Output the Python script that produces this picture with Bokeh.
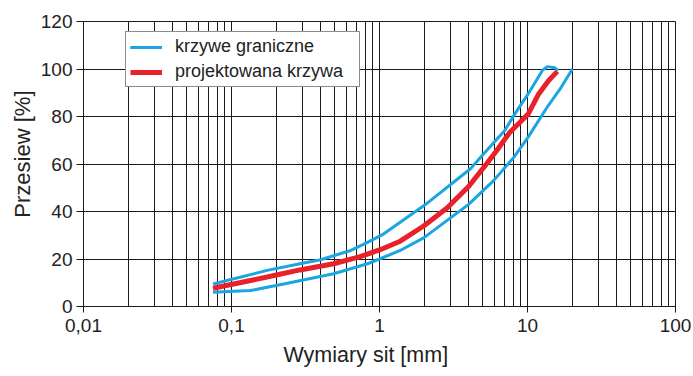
from bokeh.plotting import figure
from bokeh.models import FixedTicker, Title, Range1d
from bokeh.embed import file_html
from bokeh.resources import INLINE

# ---- data ----
upper_x = [0.075, 0.174, 0.29, 0.4, 0.64, 0.83, 1.07, 1.75, 2, 4.12, 5.06, 7.0, 8.2, 10.1, 12.6, 13.6, 15.3, 16.1]
upper_y = [9.5, 15.2, 18, 19.7, 23.6, 27, 30.6, 40, 42.5, 58, 64.3, 74, 81, 89.5, 99.4, 101, 100.5, 99.4]

red_x = [0.075, 0.174, 0.29, 0.49, 0.74, 1, 1.38, 2, 2.86, 4, 5.2, 6.2, 7.6, 8.9, 10.1, 11.9, 13.9, 15.9]
red_y = [7.7, 12.4, 15.4, 18, 21, 23.8, 27.5, 34, 41.5, 50.5, 59.5, 65.7, 73.4, 77.6, 81, 89.5, 95.2, 99]

lower_x = [0.075, 0.134, 0.225, 0.49, 0.83, 1, 1.38, 2, 4, 5.9, 8.1, 10.1, 13.6, 16.9, 20.1]
lower_y = [6, 6.7, 9.5, 13.8, 18, 20, 23.6, 29, 43, 53, 62.9, 71.3, 84, 92.3, 100]

x_major = [0.01, 0.1, 1, 10, 100]
x_labels = ["0,01", "0,1", "1", "10", "100"]
x_minor = [m * d for d in [0.01, 0.1, 1, 10] for m in range(2, 10)]
y_ticks = [0, 20, 40, 60, 80, 100, 120]

label_lim = "krzywe graniczne"
label_proj = "projektowana krzywa"
xlabel = "Wymiary sit [mm]"
ylabel = "Przesiew [%]"

BLUE = "#1aa6e2"
RED = "#e8212b"
FONT = "Liberation Sans"

p = figure(x_axis_type="log", x_range=Range1d(0.01, 100), y_range=Range1d(0, 120),
           width=693, height=376,
           min_border_left=83, min_border_right=18, min_border_top=21, min_border_bottom=70,
           output_backend="svg", toolbar_location=None)

p.outline_line_color = "#1a1a1a"
p.outline_line_width = 1
p.background_fill_color = "white"
p.border_fill_color = "white"

# x axis
p.xaxis.ticker = FixedTicker(ticks=x_major, minor_ticks=x_minor)
p.xaxis.major_label_overrides = {v: l for v, l in zip(x_major, x_labels)}
p.xaxis.minor_tick_line_color = None
p.xaxis.major_tick_out = 6
p.xaxis.major_tick_in = 0
p.xaxis.major_label_standoff = 6
p.xgrid.ticker = FixedTicker(ticks=x_major, minor_ticks=x_minor)
p.xgrid.grid_line_color = "#1a1a1a"
p.xgrid.grid_line_alpha = 1
p.xgrid.minor_grid_line_color = "#1a1a1a"

# y axis
p.yaxis.ticker = FixedTicker(ticks=y_ticks)
p.yaxis.minor_tick_line_color = None
p.yaxis.major_tick_out = 7
p.yaxis.major_tick_in = 0
p.yaxis.major_label_standoff = 4
p.ygrid.grid_line_color = "#1a1a1a"
p.ygrid.grid_line_alpha = 1

for ax in (p.xaxis, p.yaxis):
    ax.axis_line_color = "#1a1a1a"
    ax.major_tick_line_color = "#1a1a1a"
    ax.major_label_text_font = FONT
    ax.major_label_text_font_size = "19px"
    ax.major_label_text_color = "#222222"

tx = Title(text=xlabel, align="left", offset=200, text_font=FONT, text_font_size="21.5px",
           text_font_style="normal", text_color="#222222", standoff=12)
p.add_layout(tx, "below")

ty = Title(text=ylabel, align="right", offset=69, text_font=FONT, text_font_size="22px",
           text_font_style="normal", text_color="#222222", standoff=6)
p.add_layout(ty, "left")

# lines
p.line(upper_x, upper_y, line_color=BLUE, line_width=3, legend_label=label_lim)
p.line(lower_x, lower_y, line_color=BLUE, line_width=3, legend_label=label_lim)
p.line(red_x, red_y, line_color=RED, line_width=5, legend_label=label_proj)

lg = p.legend[0]
lg.location = (42, 219)
lg.margin = 0
lg.padding = 4
lg.spacing = 4
lg.glyph_width = 32
lg.glyph_height = 20
lg.label_height = 20
lg.label_width = 180
lg.label_standoff = 13
lg.label_text_font = FONT
lg.label_text_font_size = "18px"
lg.label_text_color = "#222222"
lg.border_line_color = "#1a1a1a"
lg.border_line_width = 1
lg.background_fill_alpha = 1

open("out.html", "w").write(file_html(p, INLINE))
